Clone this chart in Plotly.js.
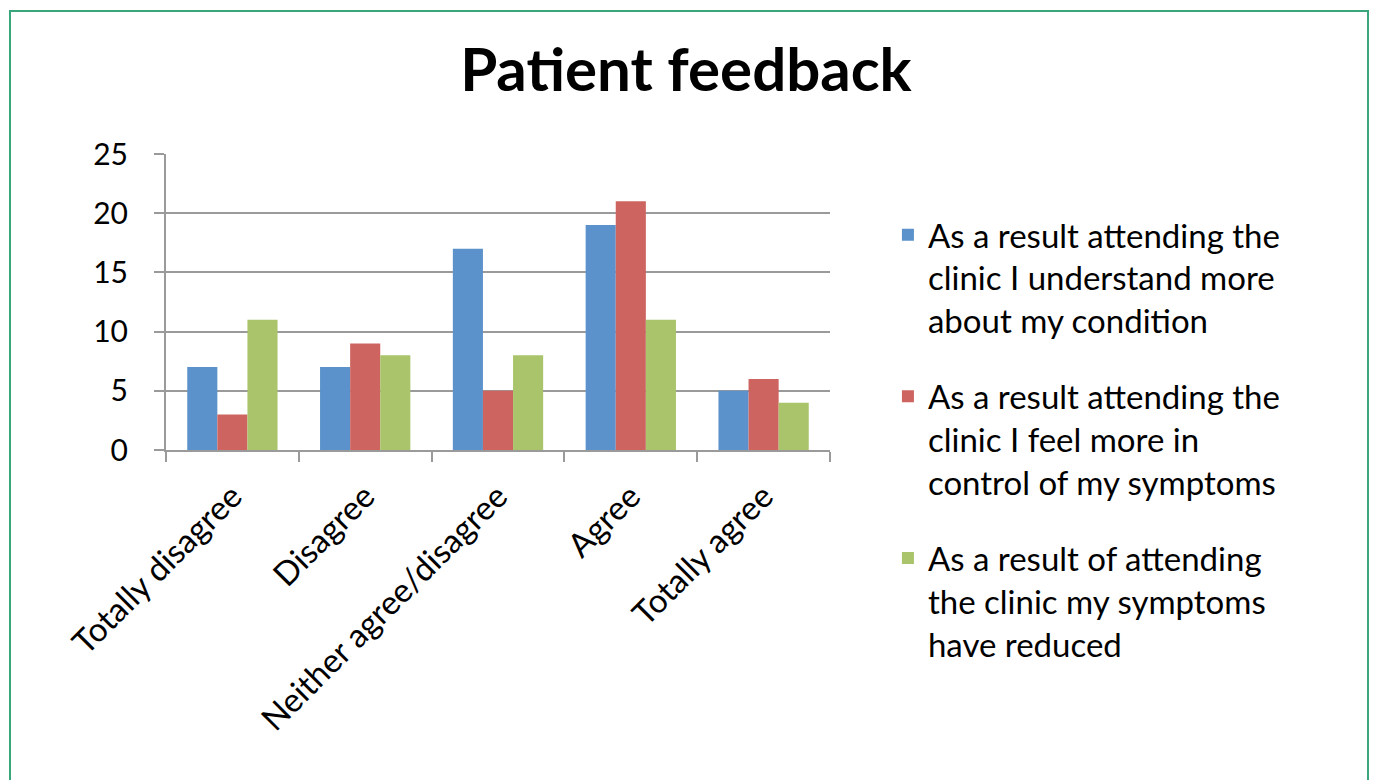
<!DOCTYPE html>
<html>
<head>
<meta charset="utf-8">
<script src="https://cdn.plot.ly/plotly-3.0.1.min.js"></script>
<style>
html,body{margin:0;padding:0;background:#fff;}
#frame{position:absolute;left:9px;top:10px;width:1360px;height:800px;border:2px solid #3AA67C;box-sizing:border-box;}
#chart{position:absolute;left:0;top:0;width:1376px;height:780px;}
</style>
</head>
<body>
<div id="frame"></div>
<div id="chart"></div>
<script>
var categories = ["Totally disagree", "Disagree", "Neither agree/disagree", "Agree", "Totally agree"];
var seriesNames = [
  "As a result attending the<br>clinic I understand more<br>about my condition",
  "As a result attending the<br>clinic I feel more in<br>control of my symptoms",
  "As a result of attending<br>the clinic my symptoms<br>have reduced"
];
var understandMore = [7, 7, 17, 19, 5];
var moreInControl = [3, 9, 5, 21, 6];
var symptomsReduced = [11, 8, 8, 11, 4];
var yTicks = [0, 5, 10, 15, 20, 25];
var colors = ["#5B92CB", "#CD645F", "#A9C46A"];

var values = [understandMore, moreInControl, symptomsReduced];
var traces = values.map(function (v, i) {
  return {
    type: "bar",
    x: categories,
    y: v,
    name: seriesNames[i],
    legendgroup: "g" + i,
    marker: {color: colors[i], line: {width: 0}},
    hoverinfo: "y"
  };
});

var font = "Lato, 'Open Sans', sans-serif";
var layout = {
  width: 1376,
  height: 780,
  paper_bgcolor: "rgba(0,0,0,0)",
  plot_bgcolor: "rgba(0,0,0,0)",
  margin: {l: 166, r: 546, t: 154, b: 330},
  font: {family: font, color: "#000"},
  title: {
    text: "<b>Patient feedback</b>",
    font: {family: font, size: 60, color: "#000"},
    x: 0.4985, xref: "container", xanchor: "center",
    y: 0.91, yref: "container", yanchor: "middle"
  },
  barmode: "group",
  bargap: 0.32,
  bargroupgap: 0,
  xaxis: {
    type: "category",
    tickangle: -45,
    tickson: "boundaries",
    ticks: "outside",
    ticklen: 10,
    tickwidth: 2,
    tickcolor: "#9a9a9a",
    ticklabelstandoff: 12,
    showline: true,
    linecolor: "#9a9a9a",
    linewidth: 2,
    showgrid: false,
    tickfont: {family: font, size: 33, color: "#000"}
  },
  yaxis: {
    range: [0, 25],
    tickvals: yTicks,
    ticktext: yTicks.map(String),
    ticks: "outside",
    ticklen: 10,
    tickwidth: 2,
    tickcolor: "#9a9a9a",
    ticklabelstandoff: 20,
    showline: true,
    linecolor: "#9a9a9a",
    linewidth: 2,
    showgrid: true,
    gridcolor: "#9a9a9a",
    gridwidth: 2,
    zeroline: false,
    tickfont: {family: font, size: 30, color: "#000"}
  },
  showlegend: true,
  legend: {
    x: 0.6453, xref: "container", xanchor: "left",
    y: 0.735, yref: "container", yanchor: "top",
    valign: "top",
    maxheight: 700,
    font: {family: font, size: 33, color: "#000"},
    tracegroupgap: 30,
    itemwidth: 30,
    bgcolor: "rgba(0,0,0,0)"
  }
};

Plotly.newPlot("chart", traces, layout, {displayModeBar: false, staticPlot: true});
</script>
</body>
</html>
